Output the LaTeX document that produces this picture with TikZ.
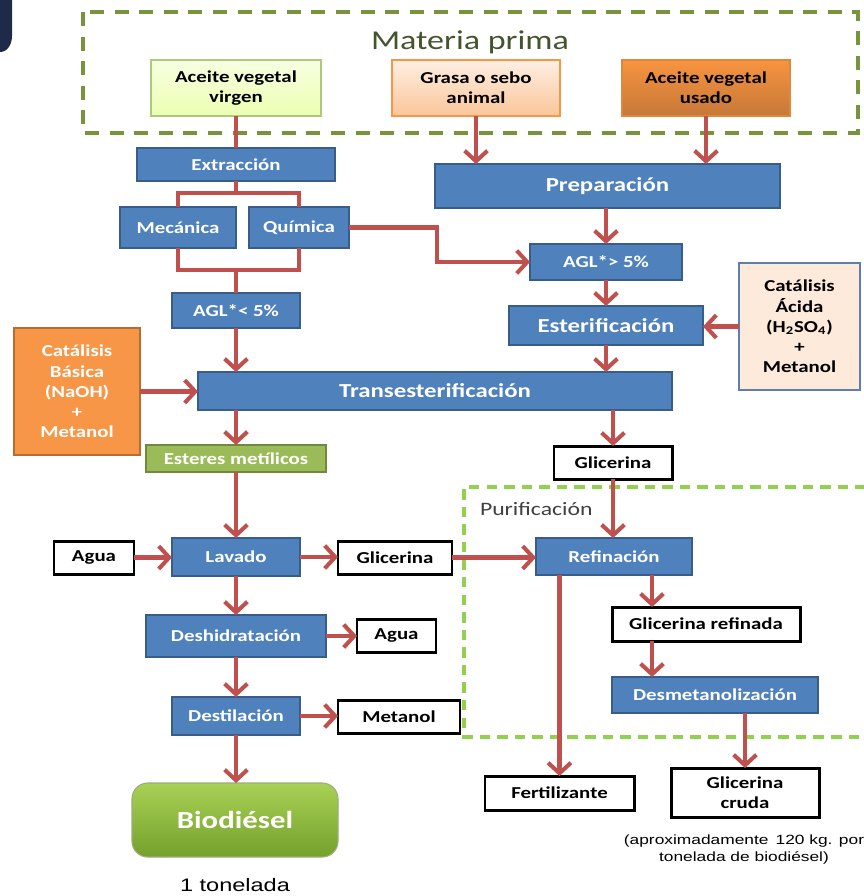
\documentclass[tikz,border=0pt]{standalone}
\usepackage{fontspec}
\setmainfont{Carlito}[FakeStretch=1.25]
\newfontfamily\arialfont{Liberation Sans}[FakeStretch=1.3]
\usetikzlibrary{arrows.meta}
\definecolor{procblue}{HTML}{4F81BD}
\definecolor{procedge}{HTML}{385D8A}
\definecolor{linkred}{HTML}{C0504D}
\definecolor{olivedash}{HTML}{77933C}
\definecolor{limedash}{HTML}{92D050}
\definecolor{titlegray}{HTML}{44552E}
\definecolor{esterfill}{HTML}{9BBB59}
\definecolor{esteredge}{HTML}{71893F}
\definecolor{basfill}{HTML}{F79646}
\definecolor{basedge}{HTML}{B66D31}
\definecolor{acidfill}{HTML}{FDEADA}
\definecolor{acidedge}{HTML}{5F7FA8}
\definecolor{cornernavy}{HTML}{1F2A48}
\definecolor{biotop}{HTML}{A8D155}
\definecolor{biobottom}{HTML}{74A02C}

\begin{document}
\begin{tikzpicture}[x=0.02cm,y=-0.02cm,inner sep=0pt,outer sep=0pt,
sz/.style 2 args={minimum width=#1*0.02cm,minimum height=#2*0.02cm},
boxfont/.style={font=\bfseries\fontsize{9.5}{11.5}\selectfont,align=center},
proc/.style={boxfont,draw=procedge,fill=procblue,line width=1.4pt,text=white},
bigproc/.style={proc,font=\bfseries\fontsize{11.3}{13}\selectfont},
prodbox/.style={boxfont,draw=black,fill=white,line width=1.7pt},
rawbox/.style={boxfont,line width=0.9pt},
flowline/.style={draw=linkred,line width=2.3pt},
flowarrow/.style={flowline,-{Straight Barb[length=6pt,width=13pt]}}]
\useasboundingbox (0,0) rectangle (864,896);

% corner
\fill[cornernavy] (0,0) -- (12,0) -- (12,36) to[out=-90,in=0] (0,52) -- cycle;

% groups
\draw[olivedash,line width=2pt,dash pattern=on 8pt off 6pt] (83,12) rectangle (858,133);
\node[text=titlegray,font=\fontsize{15.5}{18}\selectfont] (mptitle) at (470,42) {Materia prima};
\draw[limedash,line width=1.8pt,dash pattern=on 6pt off 4pt] (866,487) -- (464,487) -- (464,737) -- (866,737);
\node[text=black!75,font=\fontsize{10.8}{13}\selectfont,anchor=west] (purtitle) at (480,509) {Purificación};

% raw materials
\node[rawbox,sz={170}{56},draw=esterfill!80,top color=green!3!lime!12,bottom color=lime!30] (virgen) at (236,88) {Aceite vegetal\\virgen};
\node[rawbox,sz={168}{56},draw=basfill,top color=basfill!15,bottom color=basfill!55] (grasa) at (476,88) {Grasa o sebo\\animal};
\node[rawbox,sz={168}{56},draw=basfill!90!black,top color=basfill!90!orange,bottom color=basfill!80!black] (usado) at (706,88) {Aceite vegetal\\usado};

% left branch
\node[proc,sz={198}{33}] (extr) at (236,164.5) {Extracción};
\node[proc,sz={116}{41}] (mec) at (178,227.5) {Mecánica};
\node[proc,sz={100}{41}] (quim) at (299,227.5) {Química};
\node[proc,sz={128}{35}] (aglmin) at (236,310.5) {AGL*< 5\%};
\coordinate (split) at (236,193);
\coordinate (join) at (236,270);
\coordinate (bend) at (437,262);

% right branch
\node[bigproc,sz={345}{44}] (prep) at (607.5,186) {Preparación};
\node[proc,sz={152}{36}] (aglmax) at (606,262) {AGL*> 5\%};
\node[bigproc,sz={194}{39}] (ester) at (606,325.5) {Esterificación};
\node[boxfont,sz={121}{127},draw=acidedge,fill=acidfill,line width=1.4pt] (acida) at (799.5,326.5) {Catálisis\\Ácida\\(H\textsubscript{2}SO\textsubscript{4})\\+\\Metanol};

% main reaction
\node[bigproc,sz={474}{38}] (trans) at (435,391) {Transesterificación};
\node[boxfont,sz={126}{127},draw=basedge,fill=basfill,line width=1.4pt,text=white] (basica) at (77,391.5) {Catálisis\\Básica\\(NaOH)\\+\\Metanol};
\node[boxfont,sz={180}{27},draw=esteredge,fill=esterfill,line width=1.4pt,text=white] (esteres) at (236,458.5) {Esteres metílicos};
\node[prodbox,sz={118}{33}] (glic1) at (613,462.5) {Glicerina};

% biodiesel line
\node[proc,sz={128}{38}] (lavado) at (236,557) {Lavado};
\node[prodbox,sz={80}{33}] (agua1) at (94,557.5) {Agua};
\node[prodbox,sz={114}{33}] (glic2) at (395,557.5) {Glicerina};
\node[proc,sz={180}{42}] (deshid) at (236,636) {Deshidratación};
\node[prodbox,sz={79}{33}] (agua2) at (396.5,635.5) {Agua};
\node[proc,sz={128}{38}] (destil) at (236,716) {Destilación};
\node[prodbox,sz={122}{33}] (metanol) at (399,716.5) {Metanol};
\node[sz={206}{74},rounded corners=9pt,draw=esteredge!70,line width=0.6pt,top color=biotop,bottom color=biobottom,text=white,font=\bfseries\fontsize{14}{16}\selectfont] (bio) at (235,820) {Biodiésel};
\node[font=\arialfont\fontsize{10.3}{12}\selectfont] (tonelada) at (235,885) {1 tonelada};

% glycerine line
\node[proc,sz={156}{37}] (refin) at (614,556.5) {Refinación};
\node[prodbox,sz={188}{34}] (glicref) at (706,624) {Glicerina refinada};
\node[proc,sz={206}{36}] (desmet) at (715,695) {Desmetanolización};
\node[prodbox,sz={149}{34}] (fert) at (559.5,793) {Fertilizante};
\node[prodbox,sz={148}{49}] (glicruda) at (745,792.5) {Glicerina\\cruda};
\node[align=center,font=\arialfont\fontsize{7.6}{9.4}\selectfont] (nota) at (744,849.5) {(aproximadamente \,120 kg. por\\tonelada de biodiésel)};
\coordinate (col652) at (652,0);

% connectors
\draw[flowline] (virgen) -- (extr);
\draw[flowline] (extr) -- (split);
\draw[flowline] (mec.north) |- (split) -| (quim.north);
\draw[flowline] (mec.south) |- (join) -| (quim.south);
\draw[flowline] (join) -- (aglmin);
\draw[flowarrow] (quim.east) -| (bend) -- (aglmax.west);
\draw[flowarrow] (grasa.south) -- (grasa.south |- prep.north);
\draw[flowarrow] (usado.south) -- (usado.south |- prep.north);
\draw[flowarrow] (aglmax.north |- prep.south) -- (aglmax.north);
\draw[flowarrow] (aglmax) -- (ester);
\draw[flowarrow] (acida.west) -- (acida.west -| ester.east);
\draw[flowarrow] (aglmin.south) -- (aglmin.south |- trans.north);
\draw[flowarrow] (ester.south) -- (ester.south |- trans.north);
\draw[flowarrow] (basica.east) -- (basica.east -| trans.west);
\draw[flowarrow] (esteres.north |- trans.south) -- (esteres.north);
\draw[flowarrow] (glic1.north |- trans.south) -- (glic1.north);
\draw[flowarrow] (esteres) -- (lavado);
\draw[flowarrow] (agua1.east) -- (agua1.east -| lavado.west);
\draw[flowarrow] (lavado.east) -- (lavado.east -| glic2.west);
\draw[flowarrow] (glic2.east) -- (glic2.east -| refin.west);
\draw[flowarrow] (glic1.south) -- (glic1.south |- refin.north);
\draw[flowarrow] (lavado) -- (deshid);
\draw[flowarrow] (deshid.east) -- (deshid.east -| agua2.west);
\draw[flowarrow] (deshid) -- (destil);
\draw[flowarrow] (destil.east) -- (destil.east -| metanol.west);
\draw[flowarrow] (destil.south) -- (destil.south |- bio.north);
\draw[flowarrow] (refin.south -| col652) -- (glicref.north -| col652);
\draw[flowarrow] (glicref.south -| col652) -- (desmet.north -| col652);
\draw[flowarrow] (fert.north |- refin.south) -- (fert.north);
\draw[flowarrow] (glicruda.north |- desmet.south) -- (glicruda.north);
\end{tikzpicture}
\end{document}
